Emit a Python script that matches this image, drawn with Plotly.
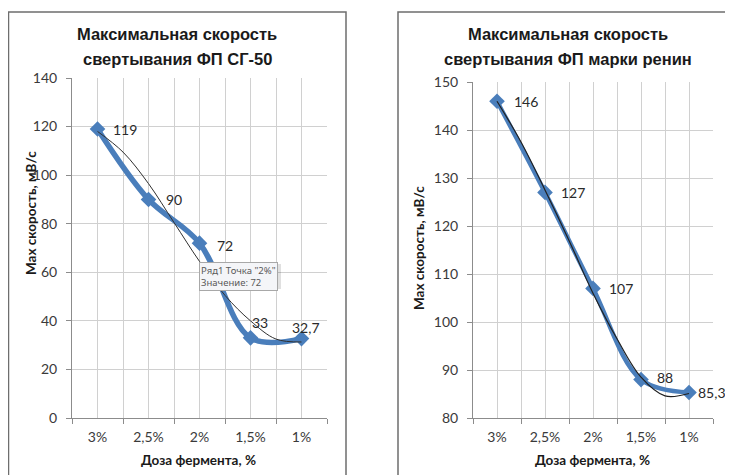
import plotly.graph_objects as go

# ---------------- data ----------------
categories = ["3%", "2,5%", "2%", "1,5%", "1%"]
sg50_values = [119, 90, 72, 33, 32.7]
renin_values = [146, 127, 107, 88, 85.3]

# thin trend lines (at half-category steps)
trend_pos = [1, 1.5, 2, 2.5, 3, 3.5, 4, 4.5, 5]
sg50_trend = [118, 109.5, 96.5, 80.5, 64.5, 50.5, 40, 32.5, 31.3]
renin_trend = [146, 137.5, 127.5, 117, 106, 96.5, 88.5, 84.6, 85.1]

sg50_yticks = [0, 20, 40, 60, 80, 100, 120, 140]
renin_yticks = [80, 90, 100, 110, 120, 130, 140, 150]

title_left = ["Максимальная скорость", "свертывания ФП СГ-50"]
title_right = ["Максимальная скорость", "свертывания ФП марки ренин"]
x_title = "Доза фермента, %"
y_title = "Мах скорость, мВ/с"
tooltip_text = "Ряд1 Точка \"2%\"<br>Значение: 72"

# ---------------- styling ----------------
PAGE_W, PAGE_H = 733, 475
OFF = 8                      # browser body margin
W, H = PAGE_W - OFF, PAGE_H - OFF
BLUE = "#4A7EBB"
GRID = "#D0D0D0"
AXIS = "#8C8C8C"
TICKFONT = dict(family="Lato", size=14, color="#3A3A3A")
LABELFONT = dict(family="Lato", size=14, color="#2A2A2A")

def px(x):
    return (x - OFF) / W

def py(y):
    return 1 - (y - OFF) / H

def fmt(v):
    return f"{v:g}".replace(".", ",")

pos = list(range(1, len(categories) + 1))
bounds = [p - 0.5 for p in pos] + [pos[-1] + 0.5]

fig = go.Figure()

# left chart
fig.add_trace(go.Scatter(x=pos, y=sg50_values, mode="lines+markers",
                         line=dict(color=BLUE, width=5.5, shape="spline", smoothing=1),
                         marker=dict(symbol="diamond", size=12, color=BLUE),
                         xaxis="x", yaxis="y", hoverinfo="skip"))
fig.add_trace(go.Scatter(x=trend_pos, y=sg50_trend, mode="lines",
                         line=dict(color="#303030", width=1, shape="spline", smoothing=1),
                         xaxis="x", yaxis="y", hoverinfo="skip"))
# right chart
fig.add_trace(go.Scatter(x=pos, y=renin_values, mode="lines+markers",
                         line=dict(color=BLUE, width=4.5, shape="spline", smoothing=1),
                         marker=dict(symbol="diamond", size=12, color=BLUE),
                         xaxis="x2", yaxis="y2", hoverinfo="skip"))
fig.add_trace(go.Scatter(x=trend_pos, y=renin_trend, mode="lines",
                         line=dict(color="#202020", width=1.2, shape="spline", smoothing=1),
                         xaxis="x2", yaxis="y2", hoverinfo="skip"))

def xaxis_cfg(domain, anchor):
    return dict(domain=domain, anchor=anchor, range=[0.5, len(categories) + 0.5],
                tickmode="array", tickvals=pos, ticktext=categories, ticks="",
                showgrid=True, gridcolor=GRID, gridwidth=1,
                minor=dict(tickmode="array", tickvals=bounds, ticks="outside",
                           ticklen=5, tickcolor=AXIS, showgrid=True,
                           gridcolor=GRID, gridwidth=1),
                showline=True, linecolor=AXIS, linewidth=1, zeroline=False,
                tickfont=TICKFONT, ticklabelstandoff=6, fixedrange=True,
                automargin=False)

def yaxis_cfg(domain, anchor, ticks_list):
    return dict(domain=domain, anchor=anchor, range=[ticks_list[0], ticks_list[-1]],
                tickmode="array", tickvals=ticks_list,
                ticks="outside", ticklen=5, tickcolor=AXIS,
                showgrid=True, gridcolor=GRID, gridwidth=1,
                showline=True, linecolor=AXIS, linewidth=1, zeroline=False,
                tickfont=TICKFONT, ticklabelstandoff=6, fixedrange=True,
                automargin=False)

annotations = []

# titles
for lines, cx in ((title_left, 177), (title_right, 568)):
    for i, t in enumerate(lines):
        annotations.append(dict(text=f"<b>{t}</b>", x=px(cx), y=py(34 + 25 * i),
                                xref="paper", yref="paper", showarrow=False,
                                xanchor="center", yanchor="middle",
                                font=dict(family="Liberation Sans", size=16.5, color="#1A1A1A")))

# axis titles
for cx in (198, 592):
    annotations.append(dict(text=f"<b>{x_title}</b>", x=px(cx), y=py(460),
                            xref="paper", yref="paper", showarrow=False,
                            xanchor="center", yanchor="middle",
                            font=dict(family="Lato", size=13.5, color="#1A1A1A")))
for cx, cy in ((31, 213), (419, 248)):
    annotations.append(dict(text=f"<b>{y_title}</b>", x=px(cx), y=py(cy),
                            xref="paper", yref="paper", showarrow=False, textangle=-90,
                            xanchor="center", yanchor="middle",
                            font=dict(family="Lato", size=13.5, color="#1A1A1A")))

# data labels (x shift, y shift, anchor)
sg50_offsets = [(13, 0, "left"), (15, 0, "left"), (15, -2, "left"), (-1, 15, "left"), (4, 11, "center")]
renin_offsets = [(15, 0, "left"), (14, 0, "left"), (14, 0, "left"), (14, 2, "left"), (7, 0, "left")]
for vals, offs, xr, yr in ((sg50_values, sg50_offsets, "x", "y"),
                           (renin_values, renin_offsets, "x2", "y2")):
    for p, v, (dx, dy, anc) in zip(pos, vals, offs):
        annotations.append(dict(text=fmt(v), x=p, y=v, xref=xr, yref=yr,
                                showarrow=False, xanchor=anc, yanchor="middle",
                                xshift=dx, yshift=dy, font=LABELFONT))

# tooltip box
annotations.append(dict(text=tooltip_text, x=px(199), y=py(262), xref="paper", yref="paper",
                        showarrow=False, xanchor="left", yanchor="top", align="left",
                        bgcolor="#F4F5F8", bordercolor="#A8A8A8", borderwidth=1, borderpad=1,
                        font=dict(family="Noto Sans", size=9.5, color="#5A5A5A")))

shapes = [
    # tooltip shadow
    dict(type="rect", xref="paper", yref="paper", x0=px(201), x1=px(281), y0=py(289), y1=py(264),
         line=dict(width=0), fillcolor="rgba(0,0,0,0.12)", layer="above"),
    # panel borders
    dict(type="rect", xref="paper", yref="paper", x0=px(8.5), x1=px(346), y0=py(490), y1=py(12),
         line=dict(color="#6E6E6E", width=1.5), fillcolor="rgba(0,0,0,0)"),
    dict(type="rect", xref="paper", yref="paper", x0=px(398), x1=px(745), y0=py(490), y1=py(12),
         line=dict(color="#6E6E6E", width=1.5), fillcolor="rgba(0,0,0,0)"),
]

fig.update_layout(
    width=W, height=H, margin=dict(l=0, r=0, t=0, b=0, autoexpand=False),
    paper_bgcolor="white", plot_bgcolor="white", showlegend=False,
    xaxis=xaxis_cfg([px(72), px(327)], "y"),
    yaxis=yaxis_cfg([1 - (418 - OFF) / H, 1 - (78 - OFF) / H], "x", sg50_yticks),
    xaxis2=xaxis_cfg([px(473), px(713)], "y2"),
    yaxis2=yaxis_cfg([1 - (418 - OFF) / H, 1 - (82 - OFF) / H], "x2", renin_yticks),
    annotations=annotations, shapes=shapes, hovermode=False,
)

fig.write_html("out.html", config={"displayModeBar": False})
